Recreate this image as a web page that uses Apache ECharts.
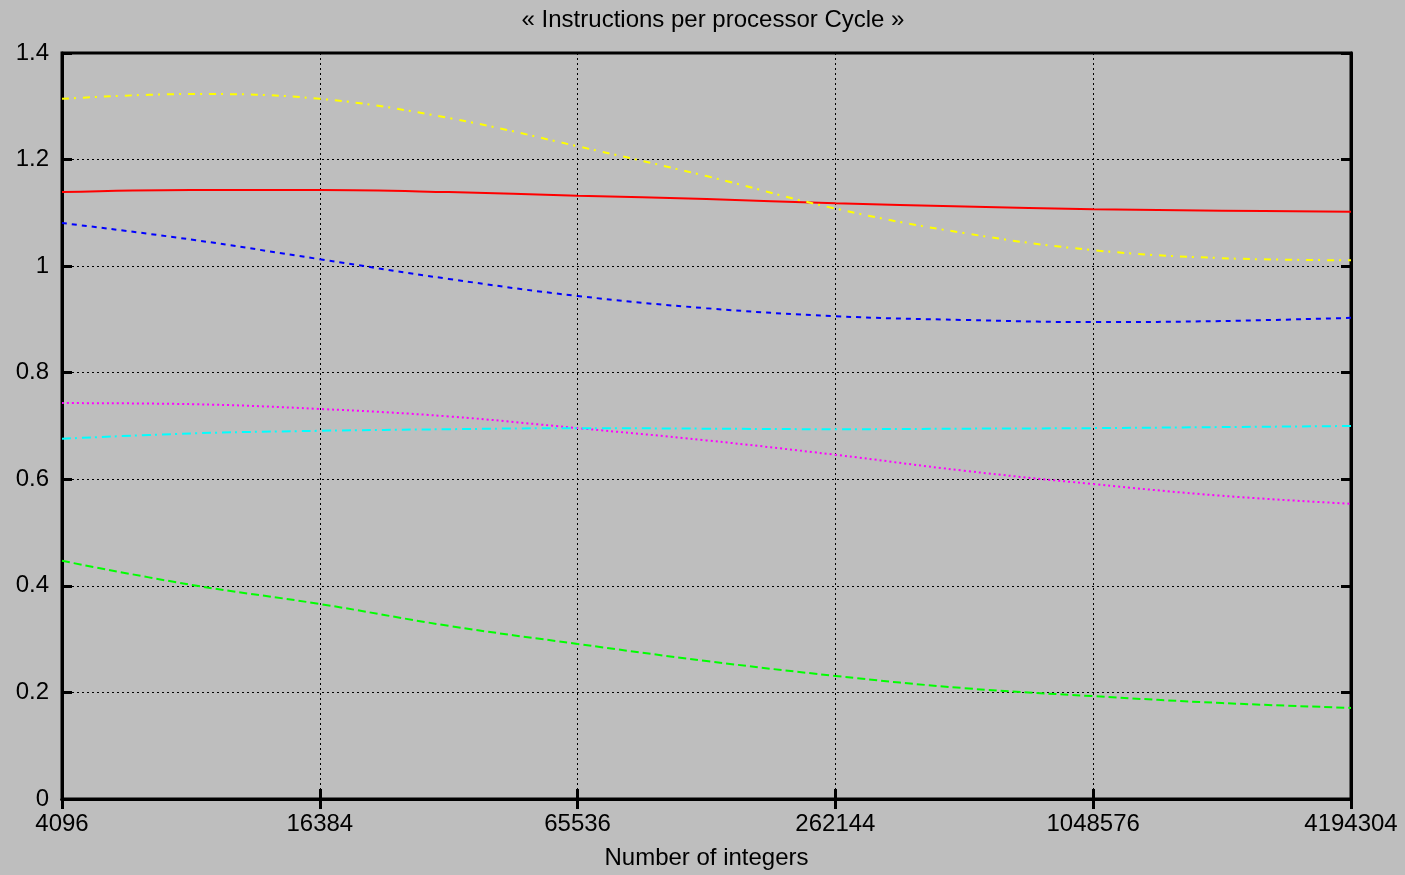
<!DOCTYPE html>
<html>
<head>
<meta charset="utf-8">
<script src="https://cdn.jsdelivr.net/npm/echarts@6/dist/echarts.min.js"></script>
<style>html,body{margin:0;padding:0;background:#bebebe;}#c{width:1405px;height:875px;}</style>
</head>
<body>
<div id="c"></div>
<script>
const sizes = [4096, 8192, 16384, 32768, 65536, 131072, 262144, 524288, 1048576, 2097152, 4194304];
const redVals     = [1.139, 1.143, 1.143, 1.139, 1.132, 1.126, 1.118, 1.112, 1.107, 1.104, 1.102];
const yellowVals  = [1.314, 1.323, 1.314, 1.278, 1.225, 1.169, 1.108, 1.062, 1.030, 1.015, 1.011];
const blueVals    = [1.081, 1.050, 1.013, 0.976, 0.944, 0.921, 0.906, 0.899, 0.895, 0.897, 0.903];
const magentaVals = [0.743, 0.741, 0.732, 0.718, 0.696, 0.673, 0.646, 0.616, 0.591, 0.569, 0.554];
const cyanVals    = [0.676, 0.686, 0.691, 0.694, 0.696, 0.695, 0.694, 0.695, 0.696, 0.698, 0.700];
const greenVals   = [0.447, 0.402, 0.366, 0.325, 0.291, 0.259, 0.231, 0.208, 0.193, 0.180, 0.171];
const titleText = '« Instructions per processor Cycle »';
const xName = 'Number of integers';

const FONT = '"Liberation Sans", Arial, sans-serif';
const FS = 24;
function pairs(v){ return sizes.map((s,i)=>[s, v[i]]); }
function mk(name, vals, color, type){
  return { name, type:'line', data: pairs(vals), smooth: 0.4, symbol:'none',
    lineStyle:{ color, width:2, type }, itemStyle:{color}, z:5 };
}
const chart = echarts.init(document.getElementById('c'));
const tickStyle = { show:true, inside:true, length:10, lineStyle:{ color:'#000', width:3 } };
chart.setOption({
  backgroundColor:'#bebebe',
  animation:false,
  title:{ text:titleText, left:708, top:3, textAlign:'center',
    textStyle:{ fontFamily:FONT, fontSize:FS, fontWeight:'normal', color:'#000' } },
  grid:{ left:62, right:54, top:53, bottom:76, show:true, borderColor:'#000', borderWidth:3, backgroundColor:'transparent' },
  xAxis:[{
    type:'log', logBase:2, min:4096, max:4194304, interval:2,
    name:xName, nameLocation:'middle', nameGap:47,
    nameTextStyle:{ fontFamily:FONT, fontSize:FS, color:'#000' },
    axisLine:{ show:true, lineStyle:{ color:'#000', width:3 } },
    axisTick: tickStyle,
    minorTick:{show:false},
    axisLabel:{ fontFamily:FONT, fontSize:FS, color:'#000', margin:13, showMinLabel:true, showMaxLabel:true,
      formatter: v => String(Math.round(v)) },
    splitLine:{ show:true, lineStyle:{ color:'#000', width:1, type:[2,3] } }
  },{
    type:'log', logBase:2, min:4096, max:4194304, interval:2, position:'top',
    axisLine:{ show:true, lineStyle:{ color:'#000', width:3 } },
    axisTick: tickStyle, axisLabel:{show:false}, splitLine:{show:false}
  }],
  yAxis:[{
    type:'value', min:0, max:1.4, interval:0.2,
    axisLine:{ show:true, lineStyle:{ color:'#000', width:3 } },
    axisTick: tickStyle,
    axisLabel:{ fontFamily:FONT, fontSize:FS, color:'#000', margin:13, padding:[4,0,0,0] },
    splitLine:{ show:true, lineStyle:{ color:'#000', width:1, type:[2,3] } }
  },{
    type:'value', min:0, max:1.4, interval:0.2, position:'right',
    axisLine:{ show:true, lineStyle:{ color:'#000', width:3 } },
    axisTick: tickStyle, axisLabel:{show:false}, splitLine:{show:false}
  }],
  series:[
    mk('red', redVals, '#ff0000', 'solid'),
    mk('green', greenVals, '#00ff00', [8,4]),
    mk('blue', blueVals, '#0000ff', [5,5]),
    mk('magenta', magentaVals, '#ff00ff', [2,3]),
    mk('cyan', cyanVals, '#00ffff', [9,4,2,5]),
    mk('yellow', yellowVals, '#ffff00', [7,5,2,7])
  ]
});
</script>
</body>
</html>
